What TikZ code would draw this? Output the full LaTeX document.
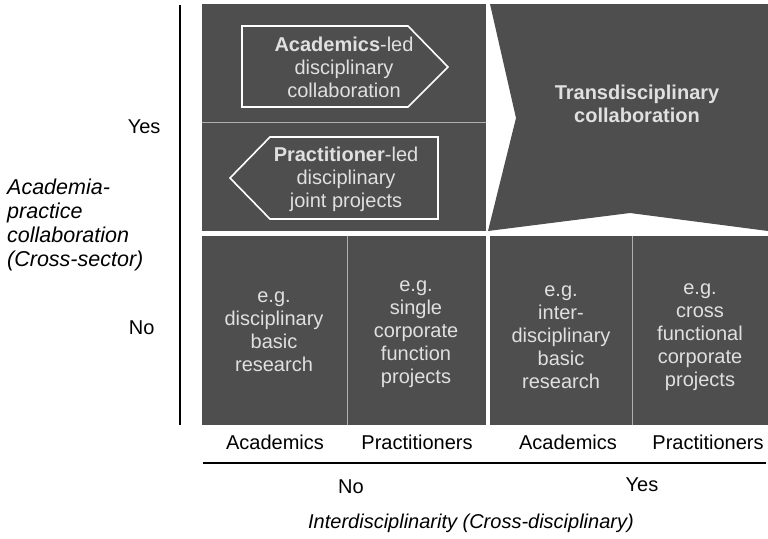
\documentclass[tikz,border=0pt]{standalone}
\usepackage{fontspec}
\setmainfont{Liberation Sans}
\usetikzlibrary{positioning}

\definecolor{cellgray}{RGB}{78,78,78}
\definecolor{celltext}{RGB}{224,224,224}
\definecolor{rulegray}{RGB}{175,175,175}

\tikzset{
  celltxt/.style={text=celltext, align=center, font=\fontsize{20}{23}\selectfont},
  axistxt/.style={align=center, font=\fontsize{20}{23}\selectfont},
  outline/.style={white, line width=1.6pt},
}

\begin{document}
\begin{tikzpicture}[x=1pt,y=-1pt]
  \useasboundingbox (0,0) rectangle (768,538);
  \fill[cellgray] (202,4) rectangle (486,231);
  \draw[rulegray] (202,122) -- (486,122);
  \draw[outline]
    (242,26) -- (408,26) -- (448,67) -- (408,107) -- (242,107) -- cycle;
  \draw[outline]
    (270,137) -- (438,137) -- (438,219) -- (270,219) -- (230,178) -- cycle;
  \fill[cellgray]
    (490,4) -- (768,4) -- (768,231) -- (630,213) -- (488,231) -- (516,118) -- cycle;
  \fill[cellgray] (202,236) rectangle (486,425);
  \fill[cellgray] (490,236) rectangle (768,425);
  \draw[rulegray] (347,236) -- (347,425);
  \draw[rulegray] (632,236) -- (632,425);
  \draw[line width=1.2pt] (180,5) -- (180,425);
  \draw[line width=1.2pt] (203,463) -- (766,463);

  \node[celltxt] (acled) at (344,67)
    {\textbf{Academics}-led\\disciplinary\\collaboration};
  \node[celltxt] (prled) at (346,179)
    {\textbf{Practitioner}-led\\disciplinary\\joint projects};
  \node[celltxt] (trans) at (637,104)
    {\textbf{Transdisciplinary}\\\textbf{collaboration}};
  \node[celltxt] (discA) at (274,332)
    {e.g.\\disciplinary\\basic\\research};
  \node[celltxt] (discP) at (416,334)
    {e.g.\\single\\corporate\\function\\projects};
  \node[celltxt] (interA) at (561,337)
    {e.g.\\inter-\\disciplinary\\basic\\research};
  \node[celltxt] (interP) at (700,337)
    {e.g.\\cross\\functional\\corporate\\projects};

  \node[axistxt] (acA) at (275,442) {Academics};
  \node[axistxt] (prA) at (417,442) {Practitioners};
  \node[axistxt] (acB) at (568,442) {Academics};
  \node[axistxt] (prB) at (708,442) {Practitioners};
  \node[axistxt] (xno) at (351,487) {No};
  \node[axistxt] (xyes) at (642,485) {Yes};
  \node[axistxt, font=\fontsize{20}{23}\selectfont\itshape] (xlab) at (471,523)
    {Interdisciplinarity (Cross-disciplinary)};
  \node[axistxt, anchor=east] (yyes) at (164,127) {Yes};
  \node[axistxt, anchor=east] (yno) at (158,328) {No};
  \node[align=left, anchor=west, inner sep=0pt,
    font=\fontsize{21.5}{24}\selectfont\itshape] (ylab) at (7,225)
    {Academia-\\practice\\collaboration\\(Cross-sector)};
\end{tikzpicture}
\end{document}
